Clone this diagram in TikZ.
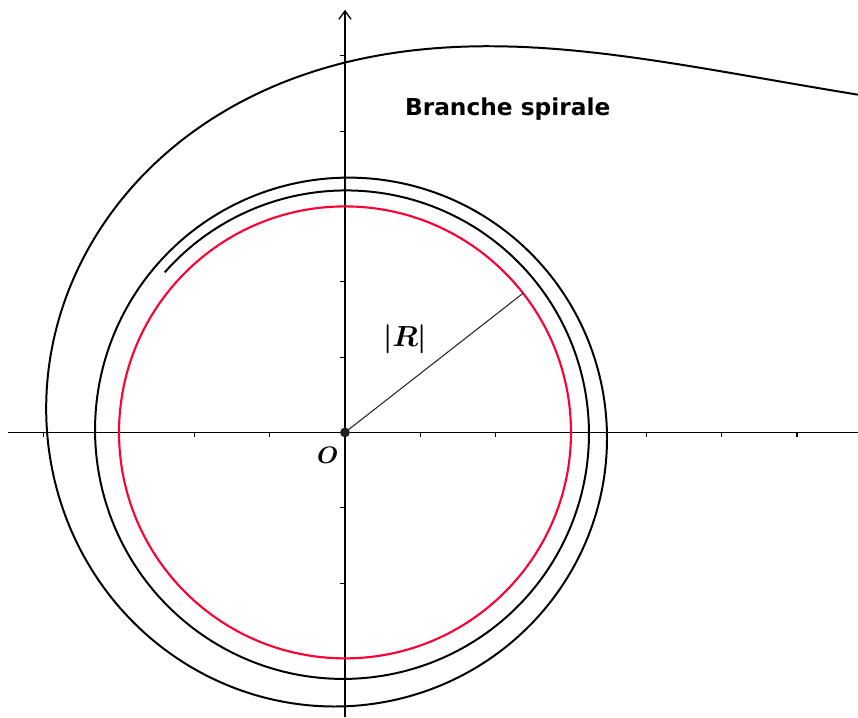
\documentclass[tikz,border=0pt]{standalone}
\usepackage{amsmath,bm}
\usepackage{fontspec}
\newfontfamily\geofont{DejaVu Sans}
\usetikzlibrary{arrows.meta}
\definecolor{cyclered}{RGB}{255,0,51}

\begin{document}
\begin{tikzpicture}
  \useasboundingbox (-4.58,-3.78) rectangle (6.81,5.74);
  \clip (-4.58,-3.78) rectangle (6.81,5.74);
  \coordinate (O) at (0,0);
  % Axes
  \draw[line width=0.5pt] (-4.48,0) -- (6.81,0);
  \draw[line width=0.5pt,-{Straight Barb[length=1.1mm,width=1.6mm]}] (0,-3.78) -- (0,5.61);
  % Ticks
  \foreach \x in {-4,...,-1,1,2,...,6} \draw[line width=0.4pt] (\x,0) -- (\x,-0.065);
  \foreach \y in {-3,...,-1,1,2,...,5} \draw[line width=0.4pt] (0,\y) -- (-0.065,\y);
  % Limit cycle
  \draw[cyclered,line width=0.8pt] (O) circle (3);
  % Spiral branch
  \draw[line width=0.75pt] plot[domain=0.55:14.99,samples=600,variable=\t] ({deg(\t)}:{3+3/\t});
  % Radius
  \coordinate (A) at (38:3);
  \draw[gray!30!black,line width=0.4pt] (O) -- (A);
  \fill[gray!25!black] (O) circle (0.065);
  % Labels
  \node (rlabel) at (0.80,1.23) {\fontsize{10.5}{12}\selectfont$\bm{|R|}$};
  \node (olabel) at (-0.23,-0.30) {\fontsize{9}{11}\selectfont$\bm{O}$};
  \node (branch) at (2.16,4.29) {\geofont\bfseries\fontsize{8.8}{10}\selectfont Branche spirale};
\end{tikzpicture}
\end{document}
